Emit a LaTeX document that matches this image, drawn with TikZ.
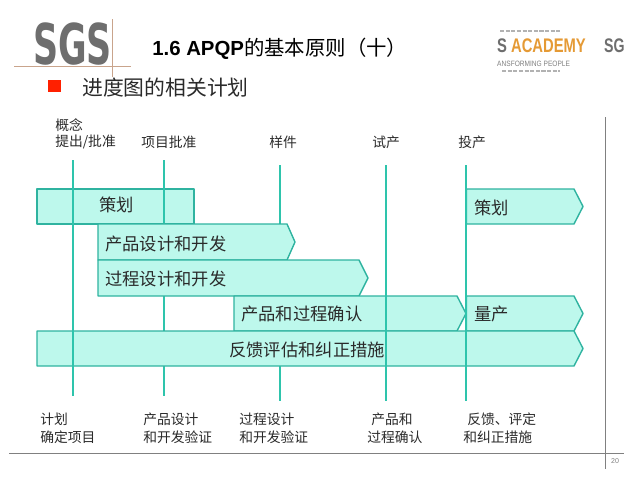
\documentclass[tikz,border=0pt]{standalone}
\usepackage{fontspec}
\setmainfont{Noto Sans CJK SC}
\setsansfont{Liberation Sans}
\newfontfamily\logofont{DejaVu Sans}
\definecolor{barfill}{HTML}{BDF8EC}
\definecolor{barline}{HTML}{2FB3A0}
\definecolor{stemline}{HTML}{2EC4AC}
\definecolor{logogray}{HTML}{6E6E6E}
\definecolor{logotan}{HTML}{C9A48C}
\definecolor{logoorange}{HTML}{E59A35}
\definecolor{inktext}{HTML}{2A2A2A}
\tikzset{
  bar/.style={draw=barline, fill=barfill, line width=1pt, line join=round},
  stem/.style={stemline, line width=1.4pt},
  rule/.style={gray, line width=0.6pt},
  barlabel/.style={anchor=west, inner sep=0pt, text=inktext, font=\fontsize{12.3}{12.3}\selectfont},
  smalllabel/.style={anchor=west, inner sep=0pt, text=inktext, font=\fontsize{9.8}{9.8}\selectfont}
}

\begin{document}
\begin{tikzpicture}[x=0.025cm, y=-0.025cm]
\useasboundingbox (0,0) rectangle (640,480);
\fill[white] (0,0) rectangle (640,480);
% logo left
\node (sgs) [anchor=center, inner sep=0pt, xscale=0.62, text=logogray, font=\logofont\bfseries\fontsize{40}{40}\selectfont] at (72.5,44.5) {SGS};
\draw[logotan, line width=0.6pt] (14,66) -- (131,66);
\draw[logotan, line width=0.6pt] (112,19) -- (112,77);
% title
\node (title) [anchor=west, inner sep=0pt, text=black, font=\fontsize{14.5}{14.5}\selectfont] at (152,48.5) {{\sffamily\bfseries 1.6 APQP}的基本原则（十）};
\fill[red!75!orange] (48,80) rectangle (61,92);
\node (subtitle) [anchor=west, inner sep=0pt, text=inktext, font=\fontsize{14.8}{14.8}\selectfont] at (82,87.5) {进度图的相关计划};
% logo right
\node (academy) [anchor=west, inner sep=0pt, xscale=0.75, font=\sffamily\bfseries\fontsize{14}{14}\selectfont] at (497,46) {\textcolor{logogray}{S} \textcolor{logoorange}{ACADEMY}};
\node (sg) [anchor=west, inner sep=0pt, xscale=0.72, text=logogray, font=\sffamily\bfseries\fontsize{14}{14}\selectfont] at (604,46) {SG};
\node (people) [anchor=west, inner sep=0pt, xscale=0.85, text=gray, font=\sffamily\fontsize{5.5}{5.5}\selectfont] at (497,64) {ANSFORMING PEOPLE};
\draw[gray!60, line width=0.8pt, dash pattern=on 3pt off 1pt] (500,31) -- (560,31);
\draw[gray!60, line width=0.8pt, dash pattern=on 3pt off 1pt] (502,71) -- (560,71);
% frame
\draw[rule] (605,117) -- (605,469);
\draw[rule] (9,453) -- (624,453);
\node (pageno) [anchor=center, inner sep=0pt, text=gray, font=\sffamily\fontsize{5}{5}\selectfont] at (615,461) {20};
% top labels
\node (concept) [smalllabel] at (55,125) {概念};
\node (approve) [smalllabel] at (55,142) {提出/批准};
\node (project) [smalllabel] at (141,142) {项目批准};
\node (sample) [smalllabel] at (269,142) {样件};
\node (trial) [smalllabel] at (372,142) {试产};
\node (launch) [smalllabel] at (458,142) {投产};
% bars and stems
\draw[bar] (37,189) -- (194,189) -- (194,224) -- (37,224) -- cycle;
\draw[stem] (164,160) -- (164,396);
\draw[stem] (280,165) -- (280,401);
\draw[bar] (98,224) -- (287,224) -- (295,242) -- (287,260) -- (98,260) -- cycle;
\draw[bar] (98,260) -- (359,260) -- (368,278) -- (359,296) -- (98,296) -- cycle;
\draw[bar] (234,296) -- (457,296) -- (466,313.5) -- (457,331) -- (234,331) -- cycle;
\draw[bar] (466.5,296) -- (574,296) -- (583,313.5) -- (574,331) -- (466.5,331) -- cycle;
\draw[bar] (466.5,189) -- (574,189) -- (583,206.5) -- (574,224) -- (466.5,224) -- cycle;
\draw[bar] (37,331) -- (574,331) -- (583,348.5) -- (574,366) -- (37,366) -- cycle;
\draw[stem] (72.7,160) -- (72.7,396);
\draw[stem] (385.8,165) -- (385.8,401);
\draw[stem] (466,165) -- (466,401);
% bar labels
\node (plan) [barlabel] at (99,205) {策划};
\node (design) [barlabel] at (105,244) {产品设计和开发};
\node (process) [barlabel] at (105,279) {过程设计和开发};
\node (validate) [barlabel] at (241,314) {产品和过程确认};
\node (feedback) [barlabel] at (229,350) {反馈评估和纠正措施};
\node (planb) [barlabel] at (474,208) {策划};
\node (mass) [barlabel] at (474,314) {量产};
% bottom labels
\node (outa) [smalllabel] at (40,419) {计划};
\node (outb) [smalllabel] at (40,437) {确定项目};
\node (outc) [smalllabel] at (143,419) {产品设计};
\node (outd) [smalllabel] at (143,437) {和开发验证};
\node (oute) [smalllabel] at (239,419) {过程设计};
\node (outf) [smalllabel] at (239,437) {和开发验证};
\node (outg) [smalllabel] at (371,419) {产品和};
\node (outh) [smalllabel] at (367,437) {过程确认};
\node (outi) [smalllabel] at (467,419) {反馈、评定};
\node (outj) [smalllabel] at (463,437) {和纠正措施};
\end{tikzpicture}
\end{document}
